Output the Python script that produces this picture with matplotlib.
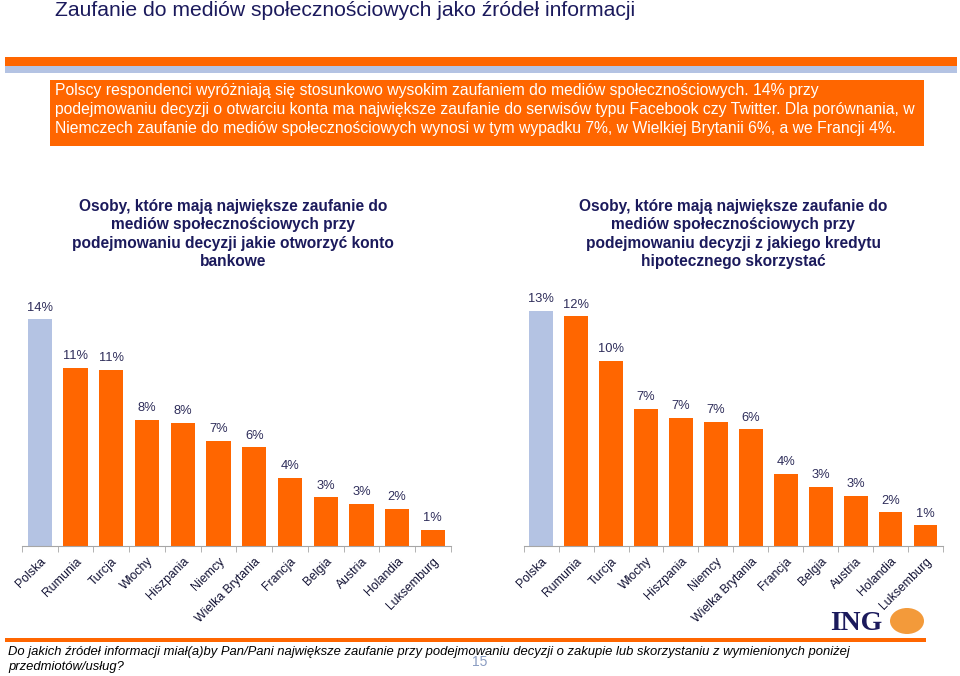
import matplotlib.pyplot as plt
import numpy as np
from matplotlib.patches import Rectangle, Ellipse

plt.rcParams['font.family'] = ['Liberation Sans', 'DejaVu Sans']

# kraje (wspolne dla obu wykresow)
countries = ['Polska', 'Rumunia', 'Turcja', 'Włochy', 'Hiszpania', 'Niemcy',
             'Wielka Brytania', 'Francja', 'Belgia', 'Austria', 'Holandia',
             'Luksemburg']

# konto bankowe (%)
account_vals = [14.0, 11.0, 10.9, 7.8, 7.6, 6.5, 6.1, 4.2, 3.0, 2.6, 2.3, 1.0]
account_labels = ['14%', '11%', '11%', '8%', '8%', '7%', '6%', '4%', '3%', '3%', '2%', '1%']

# kredyt hipoteczny
mortgage_vals = [12.7, 12.4, 10.0, 7.4, 6.9, 6.7, 6.3, 3.9, 3.2, 2.7, 1.8, 1.1]
mortgage_labels = ['13%', '12%', '10%', '7%', '7%', '7%', '6%', '4%', '3%', '3%', '2%', '1%']

ORANGE = '#FF6600'
LIGHT_BLUE = '#B4C3E3'
NAVY = '#1B1A5C'
W, H = 960, 676

fig = plt.figure(figsize=(W / 100, H / 100), dpi=100)


def fx(x):
    return x / W


def fy(y):
    return 1 - y / H


def px_rect(x0, y0, x1, y1, color):
    fig.patches.append(Rectangle((fx(x0), fy(y1)), fx(x1) - fx(x0), fy(y0) - fy(y1),
                                 transform=fig.transFigure, color=color, lw=0))


# naglowek
fig.text(fx(55), fy(11), 'Zaufanie do mediów społecznościowych jako źródeł informacji',
         fontsize=15.2, color=NAVY, va='center', ha='left')
px_rect(5, 56.5, 957, 66.5, ORANGE)
px_rect(5, 66.5, 957, 72.5, LIGHT_BLUE)
px_rect(50, 80, 924, 146, ORANGE)
box_lines = [
    'Polscy respondenci wyróżniają się stosunkowo wysokim zaufaniem do mediów społecznościowych. 14% przy',
    'podejmowaniu decyzji o otwarciu konta ma największe zaufanie do serwisów typu Facebook czy Twitter. Dla porównania, w',
    'Niemczech zaufanie do mediów społecznościowych wynosi w tym wypadku 7%, w Wielkiej Brytanii 6%, a we Francji 4%.',
]
for i, line in enumerate(box_lines):
    fig.text(fx(55), fy(90.5 + i * 19), line, fontsize=11.3, color='white', va='center', ha='left')

# tytuly wykresow
fig.text(fx(233), fy(234), 'Osoby, które mają największe zaufanie do\nmediów społecznościowych przy\n'
         'podejmowaniu decyzji jakie otworzyć konto\nbankowe',
         fontsize=11.2, fontweight='bold', color=NAVY, ha='center', va='center', linespacing=1.3)
fig.text(fx(733), fy(234), 'Osoby, które mają największe zaufanie do\nmediów społecznościowych przy\n'
         'podejmowaniu decyzji z jakiego kredytu\nhipotecznego skorzystać',
         fontsize=11.2, fontweight='bold', color=NAVY, ha='center', va='center', linespacing=1.3)


def bar_panel(x0, x1, vals, labels, px_per_pct):
    top, base = 300, 545.7
    ax = fig.add_axes([fx(x0), fy(base), fx(x1) - fx(x0), fy(top) - fy(base)])
    x = np.arange(len(countries))
    colors = [LIGHT_BLUE] + [ORANGE] * (len(countries) - 1)
    bars = ax.bar(x, vals, width=0.68, color=colors)
    for b, lab in zip(bars, labels):
        ax.annotate(lab, (b.get_x() + b.get_width() / 2, b.get_height()),
                    xytext=(0, 4), textcoords='offset points', ha='center', va='bottom',
                    fontsize=9.3, color='#2E2D5A', annotation_clip=False)
    ax.set_xlim(-0.5, len(countries) - 0.5)
    ax.set_ylim(0, (base - top) / px_per_pct)
    for s in ['top', 'right', 'left']:
        ax.spines[s].set_visible(False)
    ax.spines['bottom'].set_color('#A6A6A6')
    ax.set_yticks([])
    ax.set_xticks(x)
    ax.set_xticklabels(countries, rotation=45, ha='right', va='top',
                       rotation_mode='anchor', fontsize=8.8, color='#111133')
    ax.tick_params(axis='x', which='major', length=0, pad=7)
    ax.set_xticks(np.arange(-0.5, len(countries)), minor=True)
    ax.tick_params(axis='x', which='minor', length=4, color='#A6A6A6', direction='out')
    ax.patch.set_alpha(0)
    return ax


bar_panel(22, 450.7, account_vals, account_labels, 16.16)
bar_panel(523.7, 943, mortgage_vals, mortgage_labels, 18.5)

# logo ING
fig.text(fx(830), fy(624), 'ING', fontsize=20, fontweight='bold', color=NAVY,
         family='Liberation Serif', ha='left', va='center')
fig.patches.append(Ellipse((fx(907), fy(621)), fx(34), 26 / H, transform=fig.transFigure,
                           color='#F39A3A', lw=0))

# stopka
px_rect(5, 637.5, 926, 642, ORANGE)
fig.text(fx(8), fy(652), 'Do jakich źródeł informacji miał(a)by Pan/Pani największe zaufanie przy '
         'podejmowaniu decyzji o zakupie lub skorzystaniu z wymienionych poniżej',
         fontsize=9.35, style='italic', color='black', va='center', ha='left')
fig.text(fx(8), fy(667), 'przedmiotów/usług?', fontsize=9.35, style='italic', color='black',
         va='center', ha='left')
fig.text(fx(480), fy(662), '15', fontsize=10, color='#8A9CC2', va='center', ha='center')

fig.savefig('out.png', dpi=100)
